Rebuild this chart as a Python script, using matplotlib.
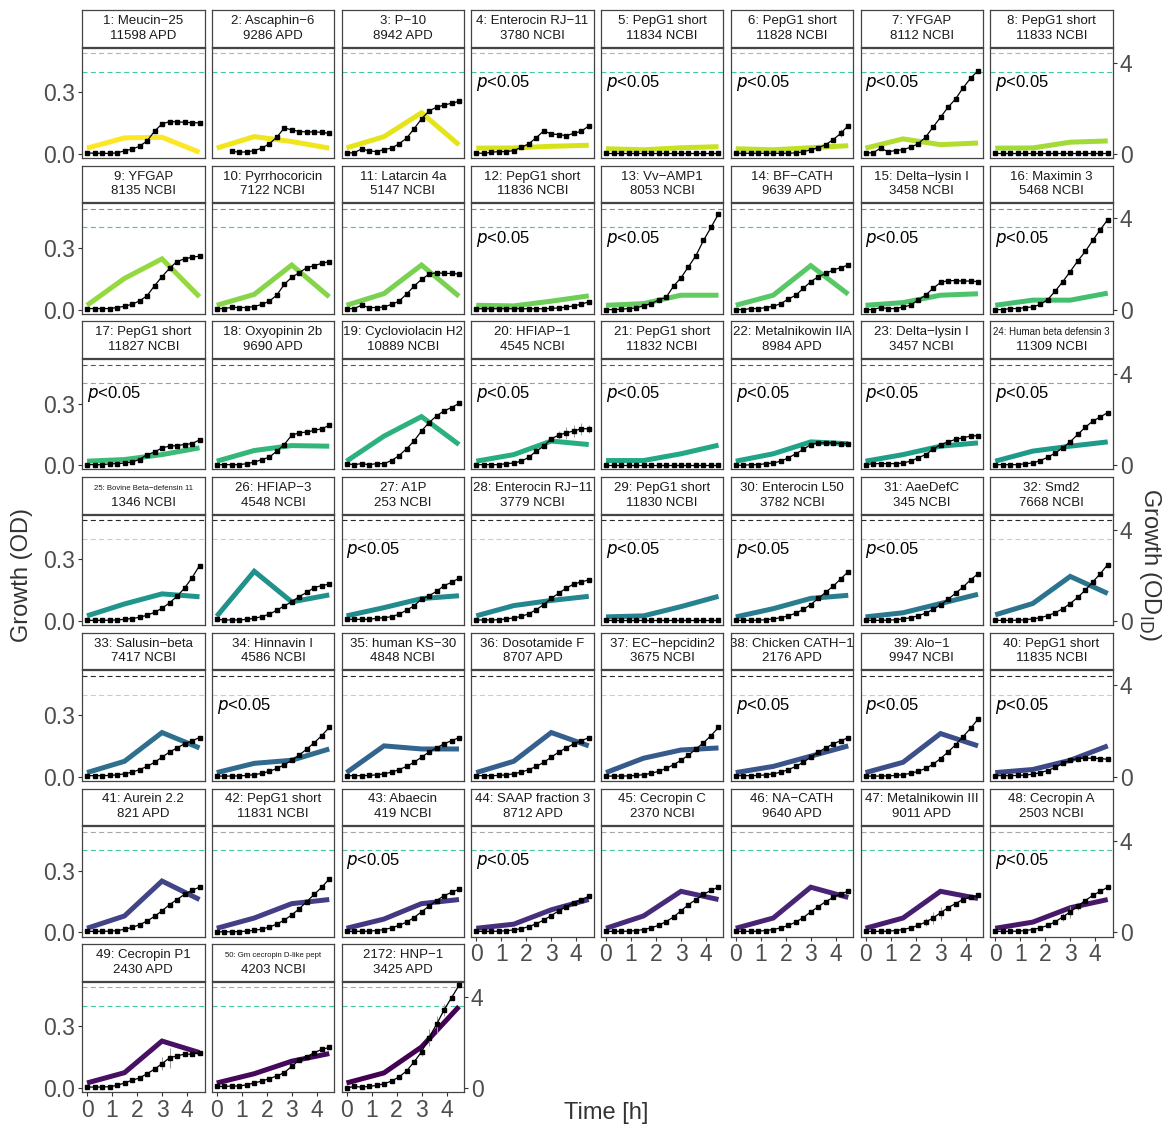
import numpy as np
import matplotlib
matplotlib.use("Agg")
import matplotlib.pyplot as plt
from matplotlib import cm

plt.rcParams["font.family"] = ["Liberation Sans", "DejaVu Sans"]

# Sampling times of the plate-reader measurements (h) and of the predicted curve
time_obs = [0.0, 0.3, 0.6, 0.9, 1.2, 1.5, 1.8, 2.1, 2.4, 2.7, 3.0, 3.3, 3.6, 3.9, 4.2, 4.5]
time_pred = [0.0, 1.5, 3.0, 4.5]

panel_ids = [str(i) for i in range(1, 51)] + ["2172"]

peptides = [
    "Meucin\u221225", "Ascaphin\u22126", "P\u221210", "Enterocin RJ\u221211", "PepG1 short",
    "PepG1 short", "YFGAP", "PepG1 short", "YFGAP", "Pyrrhocoricin",
    "Latarcin 4a", "PepG1 short", "Vv\u2212AMP1", "BF\u2212CATH", "Delta\u2212lysin I",
    "Maximin 3", "PepG1 short", "Oxyopinin 2b", "Cycloviolacin H2", "HFIAP\u22121",
    "PepG1 short", "Metalnikowin IIA", "Delta\u2212lysin I", "Human beta defensin 3",
    "Bovine Beta\u2212defensin 11", "HFIAP\u22123", "A1P", "Enterocin RJ\u221211",
    "PepG1 short", "Enterocin L50", "AaeDefC", "Smd2", "Salusin\u2212beta", "Hinnavin I",
    "human KS\u221230", "Dosotamide F", "EC\u2212hepcidin2", "Chicken CATH\u22121", "Alo\u22121",
    "PepG1 short", "Aurein 2.2", "PepG1 short", "Abaecin", "SAAP fraction 3",
    "Cecropin C", "NA\u2212CATH", "Metalnikowin III", "Cecropin A", "Cecropin P1",
    "Gm cecropin D-like pept", "HNP\u22121",
]

sources = [
    "11598 APD", "9286 APD", "8942 APD", "3780 NCBI", "11834 NCBI", "11828 NCBI",
    "8112 NCBI", "11833 NCBI", "8135 NCBI", "7122 NCBI", "5147 NCBI", "11836 NCBI",
    "8053 NCBI", "9639 APD", "3458 NCBI", "5468 NCBI", "11827 NCBI", "9690 APD",
    "10889 NCBI", "4545 NCBI", "11832 NCBI", "8984 APD", "3457 NCBI", "11309 NCBI",
    "1346 NCBI", "4548 NCBI", "253 NCBI", "3779 NCBI", "11830 NCBI", "3782 NCBI",
    "345 NCBI", "7668 NCBI", "7417 NCBI", "4586 NCBI", "4848 NCBI", "8707 APD",
    "3675 NCBI", "2176 APD", "9947 NCBI", "11835 NCBI", "821 APD", "11831 NCBI",
    "419 NCBI", "8712 APD", "2370 NCBI", "9640 APD", "9011 APD", "2503 NCBI",
    "2430 APD", "4203 NCBI", "3425 APD",
]

# Panels where growth differs significantly from the prediction
significant = [4, 5, 6, 7, 8, 12, 13, 15, 16, 17, 20, 21, 22, 23, 24,
               27, 29, 30, 31, 34, 38, 39, 40, 43, 44, 48]

nan = np.nan
# Measured OD per panel (mean of replicates)
observed_od = [
    [0.005, 0.003, 0.003, 0.002, 0.005, 0.015, 0.023, 0.037, 0.063, 0.110, 0.146, 0.157, 0.156, 0.154, 0.152, 0.151],
    [nan, nan, 0.013, 0.008, 0.010, 0.016, 0.028, 0.049, 0.081, 0.126, 0.117, 0.109, 0.107, 0.107, 0.105, 0.100],
    [0.005, 0.005, 0.024, 0.015, 0.011, 0.021, 0.028, 0.049, 0.076, 0.122, 0.170, 0.209, 0.227, 0.238, 0.246, 0.256],
    [0.005, 0.002, 0.008, 0.011, 0.011, 0.016, 0.032, 0.049, 0.079, 0.112, 0.097, 0.094, 0.089, 0.100, 0.110, 0.136],
    [0.004, 0.004, 0.004, 0.004, 0.004, 0.004, 0.004, 0.004, 0.004, 0.004, 0.004, 0.004, 0.004, 0.004, 0.004, 0.004],
    [0.003, 0.003, 0.003, 0.003, 0.003, 0.003, 0.003, 0.003, 0.005, 0.010, 0.020, 0.030, 0.045, 0.070, 0.100, 0.138],
    [0.005, 0.005, 0.028, 0.011, 0.016, 0.021, 0.032, 0.049, 0.081, 0.130, 0.178, 0.227, 0.267, 0.321, 0.368, 0.405],
    [0.004, 0.004, 0.004, 0.004, 0.004, 0.004, 0.004, 0.004, 0.004, 0.004, 0.004, 0.004, 0.004, 0.004, 0.004, 0.004],
    [0.005, 0.005, 0.005, 0.005, 0.010, 0.016, 0.026, 0.042, 0.067, 0.116, 0.160, 0.201, 0.234, 0.247, 0.255, 0.260],
    [0.005, 0.005, 0.011, 0.010, 0.010, 0.015, 0.025, 0.041, 0.070, 0.123, 0.157, 0.180, 0.204, 0.214, 0.225, 0.234],
    [0.005, 0.005, 0.021, 0.010, 0.010, 0.013, 0.025, 0.041, 0.075, 0.114, 0.147, 0.172, 0.180, 0.176, 0.176, 0.173],
    [0.004, 0.004, 0.004, 0.004, 0.004, 0.004, 0.004, 0.004, 0.004, 0.004, 0.006, 0.008, 0.012, 0.018, 0.026, 0.038],
    [0.000, 0.000, 0.002, 0.005, 0.008, 0.018, 0.029, 0.046, 0.059, 0.114, 0.155, 0.209, 0.263, 0.337, 0.400, 0.466],
    [0.000, 0.000, 0.005, 0.005, 0.010, 0.016, 0.029, 0.051, 0.070, 0.103, 0.136, 0.160, 0.176, 0.193, 0.204, 0.217],
    [0.000, 0.000, 0.010, 0.005, 0.005, 0.013, 0.021, 0.046, 0.070, 0.103, 0.132, 0.141, 0.141, 0.139, 0.139, 0.136],
    [0.000, 0.000, 0.005, 0.005, 0.010, 0.013, 0.025, 0.049, 0.090, 0.136, 0.185, 0.237, 0.283, 0.337, 0.389, 0.438],
    [0.003, 0.003, 0.003, 0.007, 0.008, 0.011, 0.016, 0.028, 0.052, 0.064, 0.085, 0.093, 0.096, 0.101, 0.106, 0.123],
    [0.003, 0.003, 0.003, 0.003, 0.008, 0.015, 0.028, 0.039, 0.069, 0.101, 0.147, 0.158, 0.162, 0.170, 0.178, 0.194],
    [0.008, 0.003, 0.008, 0.003, 0.008, 0.008, 0.023, 0.047, 0.080, 0.118, 0.167, 0.208, 0.240, 0.265, 0.281, 0.301],
    [0.003, 0.003, 0.003, 0.003, 0.008, 0.011, 0.020, 0.039, 0.069, 0.093, 0.129, 0.147, 0.158, 0.167, 0.178, 0.178],
    [0.003, 0.003, 0.003, 0.003, 0.003, 0.003, 0.003, 0.003, 0.003, 0.003, 0.003, 0.003, 0.003, 0.003, 0.003, 0.003],
    [0.000, 0.000, 0.003, 0.003, 0.008, 0.011, 0.020, 0.036, 0.056, 0.077, 0.101, 0.109, 0.109, 0.109, 0.106, 0.106],
    [0.003, 0.008, 0.008, 0.008, 0.008, 0.011, 0.020, 0.036, 0.052, 0.077, 0.101, 0.114, 0.126, 0.134, 0.142, 0.145],
    [0.003, 0.003, 0.003, 0.003, 0.008, 0.011, 0.023, 0.039, 0.060, 0.085, 0.115, 0.150, 0.185, 0.215, 0.235, 0.257],
    [0.003, 0.003, 0.003, 0.004, 0.005, 0.008, 0.012, 0.018, 0.028, 0.042, 0.062, 0.088, 0.120, 0.160, 0.210, 0.270],
    [0.008, 0.005, 0.005, 0.005, 0.008, 0.013, 0.021, 0.033, 0.052, 0.074, 0.093, 0.119, 0.139, 0.163, 0.172, 0.180],
    [0.008, 0.008, 0.008, 0.008, 0.013, 0.016, 0.021, 0.033, 0.052, 0.074, 0.106, 0.123, 0.144, 0.172, 0.188, 0.208],
    [0.005, 0.005, 0.005, 0.006, 0.010, 0.015, 0.022, 0.035, 0.055, 0.080, 0.110, 0.135, 0.160, 0.180, 0.190, 0.200],
    [0.003, 0.003, 0.003, 0.003, 0.003, 0.003, 0.003, 0.003, 0.003, 0.003, 0.003, 0.003, 0.003, 0.003, 0.003, 0.003],
    [0.003, 0.003, 0.003, 0.004, 0.006, 0.010, 0.016, 0.025, 0.038, 0.056, 0.080, 0.110, 0.140, 0.170, 0.205, 0.240],
    [0.003, 0.003, 0.003, 0.004, 0.006, 0.010, 0.016, 0.025, 0.038, 0.056, 0.078, 0.105, 0.135, 0.165, 0.200, 0.230],
    [0.003, 0.003, 0.003, 0.004, 0.006, 0.010, 0.016, 0.026, 0.040, 0.060, 0.085, 0.115, 0.150, 0.190, 0.230, 0.275],
    [0.005, 0.005, 0.005, 0.006, 0.009, 0.014, 0.022, 0.034, 0.050, 0.070, 0.095, 0.120, 0.140, 0.160, 0.175, 0.190],
    [0.003, 0.003, 0.003, 0.004, 0.006, 0.010, 0.016, 0.026, 0.040, 0.058, 0.080, 0.105, 0.135, 0.165, 0.200, 0.240],
    [0.005, 0.005, 0.005, 0.006, 0.009, 0.014, 0.022, 0.034, 0.050, 0.070, 0.095, 0.120, 0.140, 0.160, 0.175, 0.190],
    [0.005, 0.005, 0.005, 0.006, 0.009, 0.014, 0.022, 0.034, 0.050, 0.070, 0.095, 0.120, 0.140, 0.160, 0.175, 0.190],
    [0.003, 0.003, 0.003, 0.004, 0.006, 0.010, 0.016, 0.026, 0.040, 0.058, 0.080, 0.105, 0.135, 0.165, 0.200, 0.240],
    [0.005, 0.005, 0.005, 0.006, 0.009, 0.014, 0.022, 0.034, 0.050, 0.070, 0.095, 0.120, 0.140, 0.160, 0.175, 0.190],
    [0.003, 0.003, 0.003, 0.004, 0.006, 0.010, 0.016, 0.026, 0.040, 0.060, 0.088, 0.120, 0.155, 0.195, 0.235, 0.280],
    [0.005, 0.005, 0.005, 0.006, 0.008, 0.012, 0.020, 0.030, 0.045, 0.065, 0.080, 0.088, 0.090, 0.090, 0.088, 0.085],
    [0.005, 0.005, 0.005, 0.006, 0.009, 0.015, 0.024, 0.037, 0.055, 0.078, 0.105, 0.135, 0.160, 0.185, 0.205, 0.220],
    [0.003, 0.003, 0.003, 0.004, 0.006, 0.010, 0.016, 0.026, 0.040, 0.060, 0.085, 0.115, 0.150, 0.185, 0.220, 0.260],
    [0.005, 0.005, 0.005, 0.006, 0.009, 0.014, 0.022, 0.034, 0.050, 0.072, 0.100, 0.128, 0.155, 0.178, 0.195, 0.210],
    [0.005, 0.005, 0.005, 0.006, 0.008, 0.012, 0.018, 0.028, 0.042, 0.060, 0.082, 0.105, 0.125, 0.145, 0.160, 0.175],
    [0.005, 0.005, 0.005, 0.006, 0.009, 0.014, 0.022, 0.034, 0.052, 0.075, 0.105, 0.135, 0.160, 0.185, 0.205, 0.220],
    [0.005, 0.005, 0.005, 0.006, 0.009, 0.014, 0.022, 0.034, 0.050, 0.072, 0.100, 0.125, 0.150, 0.170, 0.188, 0.200],
    [0.005, 0.005, 0.005, 0.006, 0.009, 0.014, 0.022, 0.034, 0.050, 0.070, 0.095, 0.120, 0.140, 0.160, 0.172, 0.180],
    [0.005, 0.005, 0.005, 0.006, 0.009, 0.014, 0.022, 0.034, 0.052, 0.075, 0.100, 0.128, 0.155, 0.180, 0.200, 0.220],
    [0.005, 0.005, 0.005, 0.007, 0.013, 0.025, 0.038, 0.049, 0.070, 0.092, 0.119, 0.147, 0.157, 0.165, 0.165, 0.172],
    [0.008, 0.008, 0.010, 0.010, 0.016, 0.025, 0.034, 0.046, 0.059, 0.075, 0.106, 0.136, 0.152, 0.173, 0.188, 0.198],
    [0.000, 0.008, 0.005, 0.008, 0.013, 0.021, 0.034, 0.054, 0.083, 0.127, 0.176, 0.246, 0.310, 0.380, 0.440, 0.500],
]

# Standard deviation of replicates, shown where it is visible
observed_sd = {
    6: [0, 0, 0, 0, 0, 0, 0, 0, 0, 0, 0, 0, 0, 0, 0.02, 0],
    20: [0, 0, 0, 0, 0, 0, 0, 0, 0, 0, 0, 0.02, 0.03, 0.03, 0.03, 0.02],
    47: [0, 0, 0, 0, 0, 0, 0, 0, 0.02, 0.03, 0.03, 0.01, 0, 0, 0, 0],
    48: [0, 0, 0, 0, 0, 0, 0, 0, 0.01, 0.02, 0.03, 0.02, 0, 0, 0, 0],
    49: [0, 0, 0, 0, 0, 0, 0, 0, 0, 0, 0.03, 0.05, 0, 0, 0, 0],
    51: [0, 0, 0, 0, 0, 0, 0, 0, 0, 0, 0.02, 0.04, 0.04, 0.03, 0, 0],
}

# Predicted OD from the model at 0, 1.5, 3 and 4.5 h
predicted_od = [
    [0.028, 0.078, 0.081, 0.008], [0.028, 0.084, 0.060, 0.028], [0.029, 0.084, 0.200, 0.044],
    [0.028, 0.029, 0.037, 0.042], [0.025, 0.020, 0.030, 0.035], [0.025, 0.020, 0.030, 0.040],
    [0.028, 0.073, 0.045, 0.053], [0.028, 0.029, 0.057, 0.063], [0.021, 0.152, 0.247, 0.062],
    [0.021, 0.074, 0.217, 0.062], [0.021, 0.078, 0.217, 0.065], [0.021, 0.018, 0.041, 0.067],
    [0.021, 0.029, 0.070, 0.070], [0.021, 0.070, 0.214, 0.075], [0.021, 0.034, 0.070, 0.077],
    [0.021, 0.046, 0.046, 0.080], [0.020, 0.028, 0.052, 0.085], [0.020, 0.072, 0.096, 0.093],
    [0.020, 0.142, 0.237, 0.101], [0.020, 0.052, 0.118, 0.101], [0.023, 0.023, 0.056, 0.098],
    [0.020, 0.056, 0.114, 0.105], [0.020, 0.052, 0.093, 0.109], [0.020, 0.069, 0.093, 0.114],
    [0.025, 0.083, 0.132, 0.118], [0.023, 0.242, 0.093, 0.127], [0.025, 0.065, 0.109, 0.123],
    [0.025, 0.075, 0.100, 0.120], [0.020, 0.025, 0.070, 0.120], [0.020, 0.060, 0.110, 0.125],
    [0.020, 0.040, 0.085, 0.130], [0.030, 0.085, 0.217, 0.134], [0.020, 0.075, 0.215, 0.140],
    [0.020, 0.065, 0.080, 0.135], [0.020, 0.150, 0.135, 0.135], [0.020, 0.075, 0.215, 0.150],
    [0.020, 0.090, 0.130, 0.140], [0.020, 0.050, 0.100, 0.150], [0.020, 0.070, 0.210, 0.150],
    [0.020, 0.035, 0.080, 0.150], [0.020, 0.080, 0.250, 0.160], [0.020, 0.070, 0.140, 0.160],
    [0.020, 0.065, 0.140, 0.160], [0.020, 0.040, 0.110, 0.160], [0.020, 0.080, 0.200, 0.160],
    [0.020, 0.070, 0.220, 0.170], [0.020, 0.070, 0.200, 0.165], [0.020, 0.050, 0.120, 0.160],
    [0.025, 0.075, 0.229, 0.173], [0.025, 0.070, 0.131, 0.168], [0.025, 0.074, 0.200, 0.397],
]

# Reference levels (OD)
upper_level = 0.49
lower_level = 0.40
od_to_odid = 9.0

# Dashed reference line colours per facet row
upper_colors = ["#b3b3b3", "#8a8a8a", "#555555", "#262626", "#262626", "#a6a6a6", "#a6a6a6"]
lower_colors = ["#3fcc9c", "#3fcc9c", "#3fcc9c", "#a6dccf", "#a6dccf", "#45c99c", "#45c99c"]

W, H = 1170, 1130
fig = plt.figure(figsize=(W / 100, H / 100), dpi=100)

col_x0, col_step, panel_w = 82.0, 129.75, 122.5
row_y0, row_step, strip_h, plot_h = 10.0, 155.7, 36.5, 110.5
n = len(observed_od)
colors = cm.viridis(np.linspace(1.0, 0.0, n))
tick_col = "#4d4d4d"
frame_col = "#444444"

strip_sizes = {23: 7.0, 24: 5.6, 49: 5.6}

for i in range(n):
    r, c = divmod(i, 8)
    x = col_x0 + c * col_step
    top = row_y0 + r * row_step

    # facet strip
    sax = fig.add_axes([x / W, 1 - (top + strip_h) / H, panel_w / W, strip_h / H])
    sax.set_xticks([]); sax.set_yticks([])
    for s in sax.spines.values():
        s.set_color(frame_col); s.set_linewidth(0.9)
    fs1 = strip_sizes.get(i, 9.5)
    sax.text(0.5, 0.70, f"{panel_ids[i]}: {peptides[i]}", ha="center", va="center",
             fontsize=fs1, color="#1a1a1a", transform=sax.transAxes, clip_on=True)
    sax.text(0.5, 0.30, sources[i], ha="center", va="center",
             fontsize=9.5, color="#1a1a1a", transform=sax.transAxes, clip_on=True)

    # panel
    ax = fig.add_axes([x / W, 1 - (top + strip_h + 1 + plot_h) / H, panel_w / W, plot_h / H])
    ax.set_xlim(-0.2, 4.7)
    ax.set_ylim(-0.02, 0.518)
    for s in ax.spines.values():
        s.set_color(frame_col); s.set_linewidth(0.9)

    ax.axhline(upper_level, color=upper_colors[r], lw=0.8, dashes=(4.5, 3), zorder=1)
    ax.axhline(lower_level, color=lower_colors[r], lw=0.8, dashes=(4.5, 3), zorder=1)

    ax.plot(time_pred, predicted_od[i], color=colors[i], lw=3.6,
            solid_capstyle="butt", solid_joinstyle="miter", zorder=2)

    y = np.array(observed_od[i], dtype=float)
    t = np.array(time_obs)
    if (i + 1) in observed_sd:
        sd = np.array(observed_sd[i + 1])
        ax.vlines(t[sd > 0], (y - sd)[sd > 0], (y + sd)[sd > 0], color="#9a9a9a", lw=0.7, zorder=3)
    ax.plot(t, y, color="black", lw=0.9, zorder=4)
    ax.plot(t, y, ls="none", marker="s", ms=2.6, color="black", zorder=5)

    if (i + 1) in significant:
        ax.text(0.04, 0.68, r"$\it{p}$<0.05", transform=ax.transAxes, fontsize=12,
                ha="left", va="center", color="black")

    ax.tick_params(axis="both", colors="#333333", labelcolor=tick_col, labelsize=16.5,
                   length=3, width=0.8, pad=2)
    ax.set_xticks([0, 1, 2, 3, 4])
    ax.set_yticks([0.0, 0.3])
    ax.set_yticklabels(["0.0", "0.3"])
    if c != 0:
        ax.tick_params(axis="y", left=False, labelleft=False)
    if i + 8 < n:
        ax.tick_params(axis="x", bottom=False, labelbottom=False)

    if c == 7 or i == n - 1:
        sec = ax.secondary_yaxis("right", functions=(lambda v: v * od_to_odid,
                                                      lambda v: v / od_to_odid))
        sec.set_yticks([0, 4])
        sec.tick_params(colors="#333333", labelcolor=tick_col, labelsize=16.5,
                        length=3, width=0.8, pad=2)
        sec.spines["right"].set_visible(False)

fig.text(22 / W, 1 - 575 / H, "Growth (OD)", rotation=90, ha="center", va="center",
         fontsize=17, color="#333333")
fig.text(1150 / W, 1 - 565 / H, r"Growth (OD$_{\mathrm{ID}}$)", rotation=270,
         ha="center", va="center", fontsize=17, color="#333333")
fig.text(606 / W, 1 - 1113 / H, "Time [h]", ha="center", va="center",
         fontsize=17, color="#333333")

fig.savefig("out.png", dpi=100, facecolor="white")
